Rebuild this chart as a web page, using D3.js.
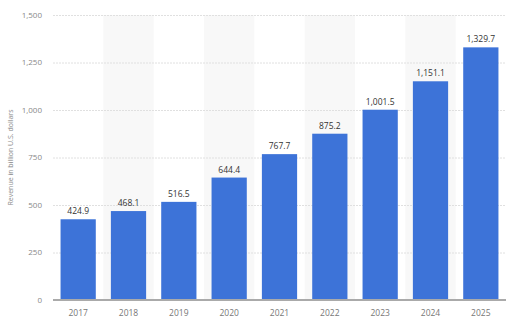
<!DOCTYPE html>
<html>
<head>
<meta charset="utf-8">
<script src="https://cdn.jsdelivr.net/npm/d3@7"></script>
<style>
  body { margin: 0; background: #fff; }
  text { font-family: "Open Sans", sans-serif; }
</style>
</head>
<body>
<div id="chart"></div>
<script>
const years = ["2017", "2018", "2019", "2020", "2021", "2022", "2023", "2024", "2025"];
const revenue = [424.9, 468.1, 516.5, 644.4, 767.7, 875.2, 1001.5, 1151.1, 1329.7];
const yTicks = [0, 250, 500, 750, 1000, 1250, 1500];

const W = 512, H = 324;
const margin = { top: 15, right: 6, bottom: 24, left: 53 },
      width = W - margin.left - margin.right,
      height = H - margin.top - margin.bottom;

const svg = d3.select("#chart")
  .append("svg")
  .attr("width", W)
  .attr("height", H)
  .append("g")
  .attr("transform", `translate(${margin.left},${margin.top})`);

const x = d3.scaleBand().domain(years).range([0, width])
  .paddingInner(0.3).paddingOuter(0.15);
const y = d3.scaleLinear().domain([0, 1500]).range([height, 0]);
const fmt = d3.format(",.1f");

// alternating shaded columns
svg.selectAll("rect.band")
  .data(years.filter((d, i) => i % 2 === 1))
  .enter().append("rect")
  .attr("class", "band")
  .attr("x", d => x(d) - x.step() * x.paddingInner() / 2)
  .attr("y", 0)
  .attr("width", x.step())
  .attr("height", height)
  .attr("fill", "#f8f8f8");

// gridlines
svg.selectAll("line.grid")
  .data(yTicks.filter(d => d > 0))
  .enter().append("line")
  .attr("x1", 0)
  .attr("x2", width)
  .attr("y1", d => y(d) + 0.5)
  .attr("y2", d => y(d) + 0.5)
  .attr("stroke", "#e0e0e0")
  .attr("stroke-dasharray", "2,1");

// y tick labels
svg.selectAll("text.ytick")
  .data(yTicks)
  .enter().append("text")
  .attr("x", -11)
  .attr("y", d => y(d))
  .attr("dy", "0.35em")
  .attr("text-anchor", "end")
  .attr("fill", "#888")
  .style("font-size", "8px")
  .text(d3.format(","));

// bars
svg.selectAll("rect.bar")
  .data(revenue)
  .enter().append("rect")
  .attr("class", "bar")
  .attr("x", (d, i) => x(years[i]))
  .attr("y", d => y(d))
  .attr("width", x.bandwidth())
  .attr("height", d => height - y(d))
  .attr("fill", "#3d73d8");

// value labels
svg.selectAll("text.val")
  .data(revenue)
  .enter().append("text")
  .attr("x", (d, i) => x(years[i]) + x.bandwidth() / 2)
  .attr("y", d => y(d) - 5)
  .attr("text-anchor", "middle")
  .attr("fill", "#333")
  .style("font-size", "8.5px")
  .text(d => fmt(d));

// baseline
svg.append("line")
  .attr("x1", 0)
  .attr("x2", width)
  .attr("y1", height)
  .attr("y2", height)
  .attr("stroke", "#aaa")
  .attr("stroke-width", 2);

// x labels
svg.selectAll("text.xtick")
  .data(years)
  .enter().append("text")
  .attr("x", d => x(d) + x.bandwidth() / 2)
  .attr("y", height + 16)
  .attr("text-anchor", "middle")
  .attr("fill", "#777")
  .style("font-size", "8.5px")
  .text(d => d);

// y title
svg.append("text")
  .attr("transform", "rotate(-90)")
  .attr("x", -height / 2)
  .attr("y", -40)
  .attr("text-anchor", "middle")
  .attr("fill", "#888")
  .style("font-size", "7px")
  .text("Revenue in billion U.S. dollars");
</script>
</body>
</html>
